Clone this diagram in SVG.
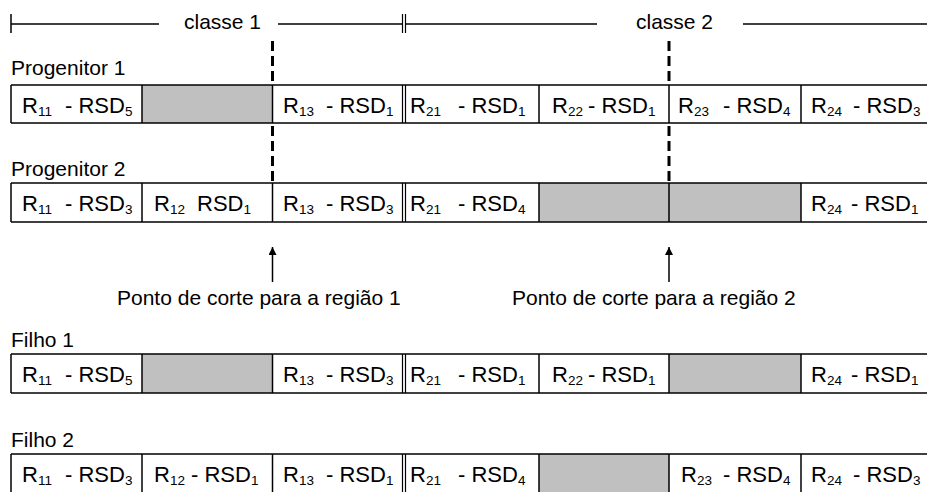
<svg xmlns="http://www.w3.org/2000/svg" width="927" height="492" viewBox="0 0 927 492">
<style>
text{font-family:"Liberation Sans",Arial,sans-serif;fill:#000}
.t{font-size:21px}
.c{font-size:22px}
.s{font-size:13.5px}
.ln{stroke:#000;stroke-width:1.5;fill:none}
.thin{stroke:#000;stroke-width:1.2;fill:none}
.gray{fill:#c0c0c0}
.cut{stroke:#000;stroke-width:3;stroke-dasharray:10 5;fill:none}
</style>
<defs>
<marker id="ah" viewBox="0 0 10 10" refX="10" refY="5" markerWidth="9" markerHeight="8" orient="auto" markerUnits="userSpaceOnUse">
<path d="M0,0 L10,5 L0,10 z" fill="#000"/>
</marker>
</defs>
<rect width="927" height="492" fill="#fff"/>

<g id="header">
<line class="ln" x1="11" y1="24" x2="159" y2="24"/>
<line class="ln" x1="11" y1="14" x2="11" y2="33"/>
<text class="t" x="184" y="29">classe 1</text>
<line class="ln" x1="278" y1="24" x2="403" y2="24"/>
<line class="thin" x1="402.5" y1="14" x2="402.5" y2="33"/>
<line class="thin" x1="405.5" y1="14" x2="405.5" y2="33"/>
<line class="ln" x1="406" y1="24" x2="597" y2="24"/>
<text class="t" x="636" y="29">classe 2</text>
<line class="ln" x1="743" y1="24" x2="927" y2="24"/>
</g>

<g id="progenitor1">
<text class="t" x="11" y="75">Progenitor 1</text>
<rect class="gray" x="142" y="85" width="130.5" height="38"/>
<line class="ln" x1="11" y1="85" x2="927" y2="85"/>
<line class="ln" x1="11" y1="123" x2="927" y2="123"/>
<line class="ln" x1="11" y1="85" x2="11" y2="123"/>
<line class="ln" x1="142" y1="85" x2="142" y2="123"/>
<line class="ln" x1="272.5" y1="85" x2="272.5" y2="123"/>
<line class="thin" x1="402.5" y1="85" x2="402.5" y2="123"/>
<line class="thin" x1="405.5" y1="85" x2="405.5" y2="123"/>
<line class="ln" x1="539" y1="85" x2="539" y2="123"/>
<line class="ln" x1="669" y1="85" x2="669" y2="123"/>
<line class="ln" x1="801" y1="85" x2="801" y2="123"/>
<text class="c" y="113"><tspan x="22">R</tspan><tspan class="s" dy="3">11</tspan><tspan x="65" dy="-3">- RSD</tspan><tspan class="s" dy="3">5</tspan></text>
<text class="c" y="113"><tspan x="283">R</tspan><tspan class="s" dy="3">13</tspan><tspan x="326" dy="-3">- RSD</tspan><tspan class="s" dy="3">1</tspan></text>
<text class="c" y="113"><tspan x="410">R</tspan><tspan class="s" dy="3">21</tspan><tspan x="458" dy="-3">- RSD</tspan><tspan class="s" dy="3">1</tspan></text>
<text class="c" y="113"><tspan x="552">R</tspan><tspan class="s" dy="3">22</tspan><tspan x="588" dy="-3">- RSD</tspan><tspan class="s" dy="3">1</tspan></text>
<text class="c" y="113"><tspan x="678">R</tspan><tspan class="s" dy="3">23</tspan><tspan x="723" dy="-3">- RSD</tspan><tspan class="s" dy="3">4</tspan></text>
<text class="c" y="113"><tspan x="811">R</tspan><tspan class="s" dy="3">24</tspan><tspan x="853" dy="-3">- RSD</tspan><tspan class="s" dy="3">3</tspan></text>
</g>

<g id="progenitor2">
<text class="t" x="11" y="176">Progenitor 2</text>
<rect class="gray" x="539" y="183" width="262" height="39"/>
<line class="ln" x1="11" y1="183" x2="927" y2="183"/>
<line class="ln" x1="11" y1="222" x2="927" y2="222"/>
<line class="ln" x1="11" y1="183" x2="11" y2="222"/>
<line class="ln" x1="142" y1="183" x2="142" y2="222"/>
<line class="ln" x1="272.5" y1="183" x2="272.5" y2="222"/>
<line class="thin" x1="402.5" y1="183" x2="402.5" y2="222"/>
<line class="thin" x1="405.5" y1="183" x2="405.5" y2="222"/>
<line class="ln" x1="539" y1="183" x2="539" y2="222"/>
<line class="ln" x1="669" y1="183" x2="669" y2="222"/>
<line class="ln" x1="801" y1="183" x2="801" y2="222"/>
<text class="c" y="211"><tspan x="22">R</tspan><tspan class="s" dy="3">11</tspan><tspan x="65" dy="-3">- RSD</tspan><tspan class="s" dy="3">3</tspan></text>
<text class="c" y="211"><tspan x="154">R</tspan><tspan class="s" dy="3">12</tspan><tspan x="197" dy="-3">RSD</tspan><tspan class="s" dy="3">1</tspan></text>
<text class="c" y="211"><tspan x="283">R</tspan><tspan class="s" dy="3">13</tspan><tspan x="326" dy="-3">- RSD</tspan><tspan class="s" dy="3">3</tspan></text>
<text class="c" y="211"><tspan x="410">R</tspan><tspan class="s" dy="3">21</tspan><tspan x="458" dy="-3">- RSD</tspan><tspan class="s" dy="3">4</tspan></text>
<text class="c" y="211"><tspan x="811">R</tspan><tspan class="s" dy="3">24</tspan><tspan x="851" dy="-3">- RSD</tspan><tspan class="s" dy="3">1</tspan></text>
</g>

<g id="connectors">
<line class="cut" x1="272.5" y1="41" x2="272.5" y2="85"/>
<line class="cut" x1="272.5" y1="126" x2="272.5" y2="183"/>
<line class="cut" x1="669" y1="41" x2="669" y2="85"/>
<line class="cut" x1="669" y1="126" x2="669" y2="183"/>
<line class="ln" x1="272.5" y1="282" x2="272.5" y2="247" marker-end="url(#ah)"/>
<line class="ln" x1="669" y1="282" x2="669" y2="247" marker-end="url(#ah)"/>
</g>

<g id="labels">
<text class="t" x="117" y="305">Ponto de corte para a região 1</text>
<text class="t" x="512" y="305">Ponto de corte para a região 2</text>
</g>

<g id="filho1">
<text class="t" x="11" y="347">Filho 1</text>
<rect class="gray" x="142" y="354" width="130.5" height="39"/>
<rect class="gray" x="669" y="354" width="132" height="39"/>
<line class="ln" x1="11" y1="354" x2="927" y2="354"/>
<line class="ln" x1="11" y1="393" x2="927" y2="393"/>
<line class="ln" x1="11" y1="354" x2="11" y2="393"/>
<line class="ln" x1="142" y1="354" x2="142" y2="393"/>
<line class="ln" x1="272.5" y1="354" x2="272.5" y2="393"/>
<line class="thin" x1="402.5" y1="354" x2="402.5" y2="393"/>
<line class="thin" x1="405.5" y1="354" x2="405.5" y2="393"/>
<line class="ln" x1="539" y1="354" x2="539" y2="393"/>
<line class="ln" x1="669" y1="354" x2="669" y2="393"/>
<line class="ln" x1="801" y1="354" x2="801" y2="393"/>
<text class="c" y="382"><tspan x="22">R</tspan><tspan class="s" dy="3">11</tspan><tspan x="65" dy="-3">- RSD</tspan><tspan class="s" dy="3">5</tspan></text>
<text class="c" y="382"><tspan x="283">R</tspan><tspan class="s" dy="3">13</tspan><tspan x="326" dy="-3">- RSD</tspan><tspan class="s" dy="3">3</tspan></text>
<text class="c" y="382"><tspan x="410">R</tspan><tspan class="s" dy="3">21</tspan><tspan x="458" dy="-3">- RSD</tspan><tspan class="s" dy="3">1</tspan></text>
<text class="c" y="382"><tspan x="552">R</tspan><tspan class="s" dy="3">22</tspan><tspan x="588" dy="-3">- RSD</tspan><tspan class="s" dy="3">1</tspan></text>
<text class="c" y="382"><tspan x="811">R</tspan><tspan class="s" dy="3">24</tspan><tspan x="851" dy="-3">- RSD</tspan><tspan class="s" dy="3">1</tspan></text>
</g>

<g id="filho2">
<text class="t" x="11" y="447">Filho 2</text>
<rect class="gray" x="539" y="454" width="130" height="40"/>
<line class="ln" x1="11" y1="454" x2="927" y2="454"/>
<line class="ln" x1="11" y1="454" x2="11" y2="494"/>
<line class="ln" x1="142" y1="454" x2="142" y2="494"/>
<line class="ln" x1="272.5" y1="454" x2="272.5" y2="494"/>
<line class="thin" x1="402.5" y1="454" x2="402.5" y2="494"/>
<line class="thin" x1="405.5" y1="454" x2="405.5" y2="494"/>
<line class="ln" x1="539" y1="454" x2="539" y2="494"/>
<line class="ln" x1="669" y1="454" x2="669" y2="494"/>
<line class="ln" x1="801" y1="454" x2="801" y2="494"/>
<text class="c" y="482"><tspan x="22">R</tspan><tspan class="s" dy="3">11</tspan><tspan x="65" dy="-3">- RSD</tspan><tspan class="s" dy="3">3</tspan></text>
<text class="c" y="482"><tspan x="154">R</tspan><tspan class="s" dy="3">12</tspan><tspan x="191" dy="-3">- RSD</tspan><tspan class="s" dy="3">1</tspan></text>
<text class="c" y="482"><tspan x="283">R</tspan><tspan class="s" dy="3">13</tspan><tspan x="326" dy="-3">- RSD</tspan><tspan class="s" dy="3">1</tspan></text>
<text class="c" y="482"><tspan x="410">R</tspan><tspan class="s" dy="3">21</tspan><tspan x="458" dy="-3">- RSD</tspan><tspan class="s" dy="3">4</tspan></text>
<text class="c" y="482"><tspan x="681">R</tspan><tspan class="s" dy="3">23</tspan><tspan x="723" dy="-3">- RSD</tspan><tspan class="s" dy="3">4</tspan></text>
<text class="c" y="482"><tspan x="811">R</tspan><tspan class="s" dy="3">24</tspan><tspan x="853" dy="-3">- RSD</tspan><tspan class="s" dy="3">3</tspan></text>
</g>
</svg>
